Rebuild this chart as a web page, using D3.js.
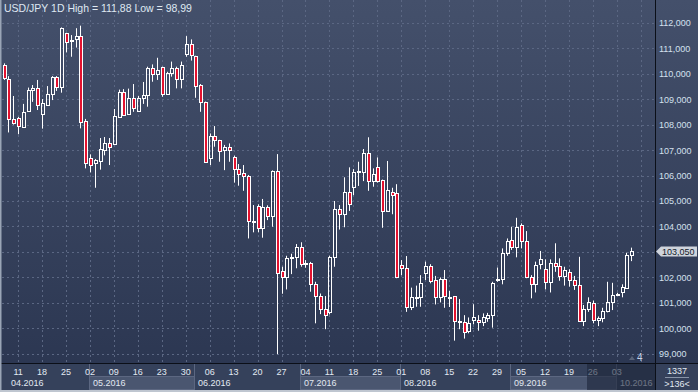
<!DOCTYPE html>
<meta charset="utf-8">
<style>
body { margin: 0; background: #2d3952; }
svg { display: block; font-family: "Liberation Sans", Arial, sans-serif; }
</style>
<svg width="698" height="392"></svg>
<script src="https://d3js.org/d3.v7.min.js"></script>
<script>

// daily USD/JPY bars, 06.04.2016 .. 06.10.2016
var opens = [110.34,109.77,108.20,108.24,107.92,108.54,109.34,109.42,108.40,108.77,
  109.18,109.87,109.46,111.58,111.28,111.34,111.46,108.14,106.67,106.48,
  106.58,107.01,107.26,107.24,108.31,109.28,108.40,109.03,108.54,109.03,
  109.15,110.21,109.97,110.24,109.21,110.01,110.21,109.77,110.75,111.15,
  110.68,109.55,108.87,106.67,107.56,107.38,106.99,107.11,106.71,106.24,
  106.08,106.00,104.22,104.80,103.93,104.75,104.40,106.18,102.24,102.00,
  102.75,102.82,103.18,102.57,102.55,101.73,101.28,100.75,100.63,102.79,
  104.67,104.48,105.35,105.54,106.12,106.12,106.90,105.80,106.32,105.84,
  104.62,105.37,105.30,102.47,102.39,100.85,101.20,101.22,102.19,102.43,
  101.90,101.24,101.93,101.24,101.27,100.29,100.24,99.88,100.33,100.33,
  100.26,100.39,100.52,101.90,101.94,102.94,103.46,103.21,104.06,103.43,
  102.00,101.73,102.51,102.35,101.83,102.55,102.45,102.07,102.22,101.90,
  101.70,100.30,100.76,101.01,100.33,100.39,100.68,101.02,101.33,101.44,
  101.60,102.88];
var highs = [110.40,109.90,109.12,108.30,108.81,109.45,109.55,109.75,109.00,109.51,
  109.90,109.90,111.81,111.60,111.51,111.78,111.88,108.22,106.83,106.65,
  107.47,107.51,107.47,108.61,109.37,109.39,109.41,109.59,109.12,109.67,
  110.27,110.36,110.62,110.27,110.07,110.47,110.27,110.47,111.47,111.34,
  110.70,109.59,108.90,107.65,107.94,107.40,107.20,107.26,106.78,106.45,
  106.41,106.02,104.84,104.87,105.08,104.83,106.20,106.84,102.42,102.85,
  102.93,103.31,103.38,102.68,102.61,101.83,101.37,101.27,102.85,105.00,
  104.84,105.93,106.32,106.25,106.54,107.04,107.50,106.28,106.71,105.84,
  106.57,105.52,105.66,102.68,102.84,101.60,101.68,102.09,102.62,102.52,
  102.06,102.00,102.29,101.47,101.27,101.15,100.52,100.43,100.95,100.52,
  100.59,100.61,101.83,102.39,103.14,103.53,103.99,104.34,104.12,103.82,
  102.09,102.62,103.04,102.71,102.71,103.34,102.75,102.42,102.32,102.06,
  102.81,100.92,101.22,101.09,100.47,100.81,101.83,101.79,101.40,101.73,
  102.97,103.17];
var lows = [109.75,107.69,108.00,107.62,107.89,108.50,108.89,108.57,107.84,108.74,
  108.96,109.32,109.25,110.83,110.66,111.02,107.85,106.28,106.12,105.52,
  106.23,106.79,106.41,107.20,108.27,108.35,108.38,108.50,108.50,108.81,
  108.70,109.68,109.75,109.09,109.18,109.88,109.42,109.42,110.66,110.51,
  109.05,108.50,106.50,106.41,107.13,106.54,106.21,106.54,105.72,105.60,
  105.40,103.53,103.77,103.77,103.56,104.25,103.99,98.99,101.36,101.53,
  102.13,102.36,102.42,102.38,101.44,100.20,100.56,99.97,100.55,102.42,
  103.88,103.97,104.61,105.23,105.59,105.78,105.40,105.56,105.72,103.95,
  104.62,104.48,101.97,102.09,100.65,100.72,100.85,100.85,101.90,101.77,
  100.94,101.02,100.81,100.84,99.52,99.97,99.60,99.81,100.16,99.91,
  100.09,100.26,100.03,101.83,101.73,102.85,103.08,102.79,103.14,101.97,
  101.18,101.41,102.32,101.53,101.41,102.22,101.87,101.68,101.64,101.51,
  100.26,100.09,100.65,100.20,100.09,100.24,100.63,100.72,101.30,101.22,
  101.57,102.64];
var closes = [109.81,108.20,108.05,107.94,108.50,109.34,109.42,108.75,108.83,109.18,
  109.87,109.46,111.78,111.23,111.32,111.46,108.11,106.48,106.41,106.59,
  107.03,107.28,107.10,108.33,109.28,108.38,109.03,108.64,109.03,109.15,
  110.23,109.97,110.14,109.21,110.01,110.21,109.77,110.34,111.15,110.73,
  109.52,108.87,106.52,107.56,107.38,106.97,107.11,106.99,106.24,106.07,
  106.00,104.22,104.16,103.93,104.75,104.40,106.18,102.16,102.00,102.75,
  102.82,103.18,102.53,102.55,101.73,101.28,100.75,100.52,102.79,104.67,
  104.49,105.35,104.87,106.15,106.18,106.90,105.80,106.06,105.80,104.62,
  105.42,105.25,102.03,102.38,100.85,101.22,101.24,101.80,102.43,101.87,
  101.24,101.93,101.28,101.22,100.29,100.24,99.85,100.20,100.43,100.26,
  100.43,100.52,101.80,101.94,102.94,103.43,103.21,103.96,103.43,102.00,
  101.73,102.49,102.71,101.83,102.55,102.45,102.07,102.28,101.90,101.70,
  100.30,100.76,101.02,100.33,100.42,100.68,101.02,101.33,101.35,101.61,
  102.88,103.05];

// weekly labels (mondays), first one sits on bar 3
var weekLabels = ["11","18","25","02","09","16","23","30","06","13","20","27",
  "04","11","18","25","01","08","15","22","29","05","12","19","26","03"];
var firstMonday = 3;
var monthLabels = ["04.2016","05.2016","06.2016","07.2016","08.2016","09.2016","10.2016"];
var monthFirstBar = [-3, 18, 40, 62, 83, 106, 128];
var priceTicks = [112,111,110,109,108,107,106,105,104,103,102,101,100,99];
var lastPrice = 103.05;

var svg = d3.select("svg"),
    W = +svg.attr("width"),
    H = +svg.attr("height");

var plotR = 655, plotB = 363;

var x = d3.scaleLinear().domain([0, 131]).range([3.7, 631.2]),
    y = d3.scaleLinear().domain([99, 112]).range([353.9, 22.6]);

var fmt = function(v) { return d3.format(".3f")(v).replace(".", ","); };

var defs = svg.append("defs");
var grad = defs.append("linearGradient").attr("id", "bg")
    .attr("x1", 0).attr("y1", 0).attr("x2", 0).attr("y2", 1);
grad.append("stop").attr("offset", 0).attr("stop-color", "#44506b");
grad.append("stop").attr("offset", 1).attr("stop-color", "#2a3550");

defs.append("clipPath").attr("id", "plot")
  .append("rect").attr("x", 2).attr("y", 0).attr("width", plotR - 2).attr("height", plotB);

svg.append("rect").attr("width", W).attr("height", H).attr("fill", "url(#bg)");

// grid
var grid = svg.append("g").attr("stroke", "#5b6783").attr("stroke-dasharray", "2,3");
grid.selectAll(".h").data(priceTicks).enter().append("line")
    .attr("x1", 2).attr("x2", plotR)
    .attr("y1", function(d) { return Math.round(y(d)) + 0.5; })
    .attr("y2", function(d) { return Math.round(y(d)) + 0.5; });

var mondays = d3.range(firstMonday, 136, 5);
grid.selectAll(".v").data(mondays).enter().append("line")
    .attr("x1", function(d) { return Math.round(x(d)) + 0.5; })
    .attr("x2", function(d) { return Math.round(x(d)) + 0.5; })
    .attr("y1", 0).attr("y2", plotB);

// candles
var bars = opens.map(function(o, i) {
  return { i: i, o: o, h: highs[i], l: lows[i], c: closes[i] };
});

var cg = svg.append("g").attr("clip-path", "url(#plot)");
var candle = cg.selectAll("g").data(bars).enter().append("g");

candle.each(function(d) {
  var g = d3.select(this),
      cx = Math.round(x(d.i)),
      top = Math.round(y(Math.max(d.o, d.c))) + 0.5,
      bot = Math.round(y(Math.min(d.o, d.c))) + 0.5;
  if (bot - top < 1) bot = top + 1;
  g.append("line").attr("stroke", "#fff")
      .attr("x1", cx + 0.5).attr("x2", cx + 0.5)
      .attr("y1", y(d.h)).attr("y2", top);
  g.append("line").attr("stroke", "#fff")
      .attr("x1", cx + 0.5).attr("x2", cx + 0.5)
      .attr("y1", bot).attr("y2", y(d.l));
  g.append("rect")
      .attr("x", cx - 0.5).attr("width", 3)
      .attr("y", top).attr("height", bot - top)
      .attr("fill", d.c < d.o ? "#e3122f" : "none")
      .attr("stroke", "#fff");
});

// bottom axis band
svg.append("rect").attr("x", 0).attr("y", plotB).attr("width", W).attr("height", H - plotB)
    .attr("fill", "#35415b");

var mx = function(i) { return Math.max(Math.round(x(i)) - 1, 0); };
monthLabels.forEach(function(m, k) {
  var x0 = mx(monthFirstBar[k]),
      x1 = k + 1 < monthLabels.length ? mx(monthFirstBar[k + 1]) : plotR;
  if (k % 2 == 1) {
    svg.append("rect").attr("x", x0 + 0.5).attr("y", 376.5)
        .attr("width", x1 - x0).attr("height", 13)
        .attr("fill", "#4a5670").attr("stroke", "#5c6781");
  }
  if (k > 0) {
    svg.append("line").attr("x1", x0 + 0.5).attr("x2", x0 + 0.5)
        .attr("y1", plotB).attr("y2", 390).attr("stroke", "#5c6781");
  }
  svg.append("text").attr("x", Math.max(x0 + 4, 11)).attr("y", 385.5)
      .attr("font-size", 9).attr("fill", "#e2e9f2").text(m);
});

svg.append("g").selectAll("text").data(weekLabels).enter().append("text")
    .attr("x", function(d, k) { return x(firstMonday + k * 5); })
    .attr("y", 375)
    .attr("text-anchor", "middle")
    .attr("font-size", 9).attr("fill", "#e2e9f2")
    .text(function(d) { return d; });

// shaded tail of the time axis
svg.append("rect").attr("x", 587).attr("y", plotB + 1).attr("width", plotR - 587).attr("height", 26)
    .attr("fill", "#1c2438").attr("opacity", 0.6);

// right axis labels (the one under the price marker is hidden)
svg.append("g").selectAll("text")
    .data(priceTicks.filter(function(d) { return Math.abs(y(d) - y(lastPrice)) > 8; }))
  .enter().append("text")
    .attr("x", 659)
    .attr("y", function(d) { return y(d) + 3.5; })
    .attr("font-size", 9).attr("fill", "#d4e0ee")
    .text(fmt);

// last price marker
var ly = Math.round(y(lastPrice));
svg.append("path")
    .attr("d", "M656," + (ly + 0.5) + "L661," + (ly - 4.5) + "H697V" + (ly + 5.5) + "H661Z")
    .attr("fill", "#cfd4dc");
svg.append("text").attr("x", 662).attr("y", ly + 4)
    .attr("font-size", 9).attr("fill", "#121a2a").text(fmt(lastPrice));

// frame lines
svg.append("line").attr("x1", 0).attr("x2", W).attr("y1", plotB + 0.5).attr("y2", plotB + 0.5)
    .attr("stroke", "#0b0f18");
svg.append("line").attr("x1", plotR + 0.5).attr("x2", plotR + 0.5).attr("y1", 0).attr("y2", H)
    .attr("stroke", "#0b0f18");
svg.append("rect").attr("x", 0).attr("y", 0).attr("width", 1.5).attr("height", H).attr("fill", "#9aa5b6");
svg.append("rect").attr("x", 0).attr("y", 390).attr("width", W).attr("height", 2).attr("fill", "#bfc6d0");

// corner box
svg.append("text").attr("x", 677).attr("y", 374).attr("text-anchor", "middle")
    .attr("font-size", 9).attr("fill", "#e2e9f2").text("1337");
svg.append("line").attr("x1", 665).attr("x2", 689).attr("y1", 377.5).attr("y2", 377.5)
    .attr("stroke", "#8894a8");
svg.append("text").attr("x", 677).attr("y", 387).attr("text-anchor", "middle")
    .attr("font-size", 9).attr("fill", "#e2e9f2").text(">136<");

// small marker near the last bar
svg.append("path").attr("d", "M629,360L632,356L635,360Z").attr("fill", "#5a6479");
svg.append("text").attr("x", 637).attr("y", 361)
    .attr("font-size", 10).attr("fill", "#c9d5e6").text("4");

// title
svg.append("text").attr("x", 4).attr("y", 12)
    .attr("font-size", 10.5).attr("fill", "#dfe8f2")
    .text("USD/JPY 1D High = 111,88 Low = 98,99");

</script>
